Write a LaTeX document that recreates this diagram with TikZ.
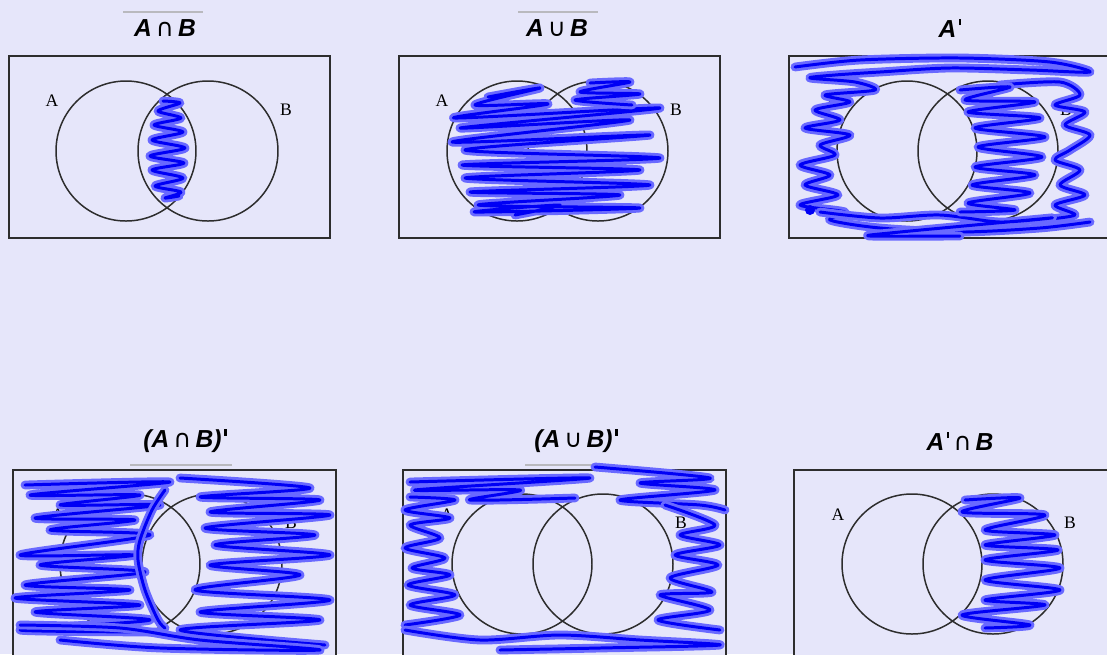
\documentclass[tikz,border=0pt]{standalone}
\usepackage{fontspec}
\setmainfont{Liberation Serif}
\setsansfont{Liberation Sans}
\newfontfamily\symfont{DejaVu Sans}
\usepackage{xcolor}
\definecolor{vnback}{RGB}{230,230,250}
\definecolor{vnline}{RGB}{45,45,45}
\definecolor{vngray}{RGB}{185,185,190}
\definecolor{penblue}{RGB}{0,0,245}
\definecolor{penhalo}{RGB}{105,105,255}
\usepackage{tikz}
\usetikzlibrary{calc}

\newcommand{\scribble}[1]{%
  \draw[halo] plot[smooth, tension=0.5] coordinates {#1};
  \draw[pen] plot[smooth, tension=0.5] coordinates {#1};}
\newcommand{\cp}{{\symfont\mdseries\upshape\,∩\,}}
\newcommand{\cu}{{\symfont\mdseries\upshape\,∪\,}}
\newcommand{\pr}{\kern1.5pt\rule[6.8pt]{1.4pt}{3.6pt}}

\begin{document}
\begin{tikzpicture}[x=0.02cm, y=-0.02cm,
    panel/.style={draw=vnline, line width=0.8pt, fill=vnback},
    venn/.style={draw=vnline, line width=0.85pt},
    setlbl/.style={font=\fontsize{10}{12}\selectfont, inner sep=0pt},
    title/.style={font=\fontsize{14}{16}\selectfont\sffamily\bfseries\itshape, inner sep=0pt},
    bar/.style={draw=vngray, line width=1.2pt},
    halo/.style={draw=penhalo, line width=5pt, line cap=round, line join=round},
    pen/.style={draw=penblue, line width=1.7pt, line cap=round, line join=round}]
      \useasboundingbox (0,0) rectangle (1107,654);
      \clip (0,0) rectangle (1107,654);
      \fill[vnback] (0,0) rectangle (1107,654);

      % titles
      \node[title] (t1) at (165,28) {A\cp B};
      \draw[bar] (123,12) -- (203,12);
      \node[title] (t2) at (557,28) {A\cu B};
      \draw[bar] (518,12) -- (598,12);
      \node[title] (t3) at (950,28) {A\pr};
      \node[title] (t4) at (185,441) {(A\cp B)\pr};
      \draw[bar] (130,465) -- (232,465);
      \node[title] (t5) at (576,441) {(A\cu B)\pr};
      \draw[bar] (525,465) -- (595,465);
      \node[title] (t6) at (960,441) {A\pr\cp B};

      % panel 1: intersection
      \draw[panel] (9,56) rectangle (330,238);
      \draw[venn] (126,151) circle[radius=70];
      \draw[venn] (208,151) circle[radius=70];
      \node[setlbl] (a1) at (52,101) {A};
      \node[setlbl] (b1) at (286,110) {B};
      \scribble{(163,101) (180,103) (158,111) (181,118) (154,125) (183,132) (152,140) (185,148)
        (150,156) (184,163) (152,170) (183,178) (155,186) (181,192) (165,198) (179,196)}

      % panel 2: union
      \draw[panel] (399,56) rectangle (720,238);
      \draw[venn] (517,151) circle[radius=70];
      \draw[venn] (598,151) circle[radius=70];
      \node[setlbl] (a2) at (442,101) {A};
      \node[setlbl] (b2) at (676,110) {B};
      \scribble{(488,97) (540,88) (475,105) (548,104) (455,118) (660,108) (460,128) (630,120)
        (452,142) (650,135) (465,150) (660,158) (462,165) (640,170) (465,178) (650,185)
        (470,192) (620,195) (478,205) (640,208) (475,212) (560,205) (515,215)}
      \scribble{(590,83) (630,82) (580,92) (640,94) (575,100) (632,105)}

      % panel 3: complement of A
      \draw[panel] (789,56) rectangle (1120,238);
      \draw[venn] (907,151) circle[radius=70];
      \draw[venn] (988,151) circle[radius=70];
      \node[setlbl] (a3) at (833,100) {A};
      \node[setlbl] (b3) at (1066,110) {B};
      \scribble{(795,67) (860,60) (960,58) (1050,62) (1090,72) (1030,70) (950,68) (880,72)
        (835,75) (810,78) (855,82) (875,90) (825,95) (850,102) (815,110) (840,120)
        (805,128) (850,135) (820,145) (835,155) (800,165) (830,175) (805,185) (838,195)
        (800,205) (845,212) (830,220) (880,228) (960,232) (1040,228) (1090,222)}
      \scribble{(1000,85) (1060,82) (1080,95) (1055,105) (1085,112) (1065,125) (1090,135)
        (1070,150) (1055,160) (1080,170) (1060,185) (1085,195) (1055,205) (1075,215) (1040,220)}
      \scribble{(820,212) (880,218) (940,215) (1000,222) (1050,218) (900,232) (870,236) (960,236)}
      \scribble{(960,90) (1010,87) (965,100) (1035,102) (968,112) (1040,118) (975,128)
        (1045,137) (978,147) (1042,157) (975,167) (1035,175) (972,185) (1030,193)
        (968,203) (1015,210) (960,212)}
      \fill[penblue] (810,210) circle[radius=5];

      % panel 4: complement of intersection
      \draw[panel] (13,470) rectangle (336,680);
      \draw[venn] (130,564) circle[radius=70];
      \draw[venn] (212,564) circle[radius=70];
      \node[setlbl] (a4) at (58,515) {A};
      \node[setlbl] (b4) at (291,523) {B};
      \scribble{(25,485) (170,482) (30,495) (140,495) (60,505) (160,505) (35,518) (135,520)
        (50,530) (150,535) (20,555) (135,555) (40,565) (145,572) (25,585) (130,590)
        (15,598) (140,605) (35,612) (150,620) (20,630) (160,632)}
      \scribble{(165,490) (152,510) (140,540) (138,560) (145,590) (158,620) (165,628)}
      \scribble{(180,478) (310,488) (200,497) (320,500) (210,512) (330,515) (205,528)
        (315,535) (215,545) (330,555) (210,565) (300,575) (195,590) (330,600) (200,612)
        (320,620) (180,630) (325,645)}
      \scribble{(20,625) (120,628) (200,640) (320,650) (160,648) (60,640)}

      % panel 5: complement of union
      \draw[panel] (403,470) rectangle (726,680);
      \draw[venn] (522,564) circle[radius=70];
      \draw[venn] (603,564) circle[radius=70];
      \node[setlbl] (a5) at (447,515) {A};
      \node[setlbl] (b5) at (681,523) {B};
      \scribble{(410,482) (590,478) (415,490) (520,490) (470,500) (575,498)}
      \scribble{(595,467) (710,478) (640,483) (715,490) (620,500) (700,505) (725,510)}
      \scribble{(410,497) (455,500) (405,510) (450,518) (410,525) (440,538) (405,548)
        (445,558) (412,568) (450,575) (408,585) (455,595) (410,605) (460,615) (405,625)}
      \scribble{(665,505) (715,525) (680,535) (720,545) (675,555) (718,565) (670,578)
        (712,592) (660,595) (710,610) (658,620) (720,630)}
      \scribble{(405,630) (480,640) (560,635) (640,640) (720,645) (600,648) (500,650)}

      % panel 6: B without A
      \draw[panel] (794,470) rectangle (1120,680);
      \draw[venn] (912,564) circle[radius=70];
      \draw[venn] (993,564) circle[radius=70];
      \node[setlbl] (a6) at (838,515) {A};
      \node[setlbl] (b6) at (1070,523) {B};
      \scribble{(965,500) (1020,498) (962,512) (1045,515) (985,530) (1055,535) (985,545)
        (1058,550) (985,560) (1060,568) (985,580) (1060,590) (985,600) (1045,605)
        (962,615) (1030,625) (985,628)}
    \end{tikzpicture}
\end{document}
